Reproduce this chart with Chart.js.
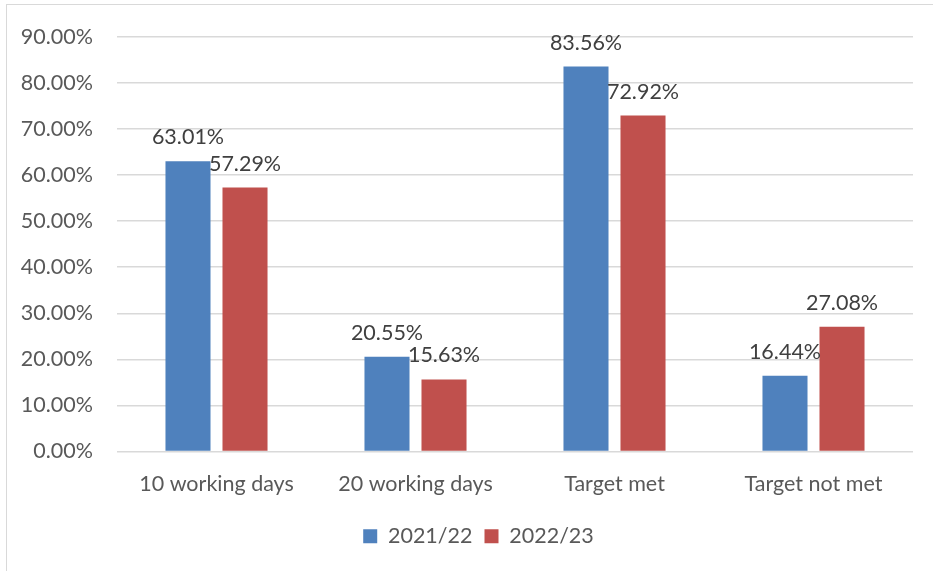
<!DOCTYPE html>
<html>
<head>
<meta charset="utf-8">
<script src="https://cdn.jsdelivr.net/npm/chart.js@4"></script>
<style>
  html, body { margin: 0; padding: 0; background: #fff; }
  #wrap { width: 933px; height: 571px; position: relative; }
</style>
</head>
<body>
<div id="wrap"><canvas id="targetChart" width="933" height="571"></canvas></div>
<script>
// chart data
const categories = ['10 working days', '20 working days', 'Target met', 'Target not met'];
const series2122 = [63.01, 20.55, 83.56, 16.44];
const series2223 = [57.29, 15.63, 72.92, 27.08];
const seriesNames = ['2021/22', '2022/23'];
const yTicks = [0, 10, 20, 30, 40, 50, 60, 70, 80, 90];

const FONT = 'Lato, "Open Sans", sans-serif';
const SIZE = 21.5;

// light frame round the chart, like the office chart border
const framePlugin = {
    id: 'frame',
    beforeDraw(chart) {
        const ctx = chart.ctx;
        ctx.save();
        ctx.strokeStyle = '#d9d9d9';
        ctx.lineWidth = 1;
        ctx.strokeRect(6.5, 4.5, 1000, 1000);
        ctx.restore();
    },
    // nudge the legend a bit right, it sits centred on the whole frame
    afterLayout(chart) {
        chart.legend.left += 17;
        chart.legend.right += 17;
    }
};

// value labels above each bar
const valueLabels = {
    id: 'valueLabels',
    afterDatasetsDraw(chart) {
        const ctx = chart.ctx;
        ctx.save();
        ctx.font = SIZE + 'px ' + FONT;
        ctx.fillStyle = '#404040';
        ctx.textAlign = 'center';
        ctx.textBaseline = 'alphabetic';
        chart.data.datasets.forEach((ds, i) => {
            chart.getDatasetMeta(i).data.forEach((bar, j) => {
                ctx.fillText(ds.data[j].toFixed(2) + '%', bar.x, bar.y - 17);
            });
        });
        ctx.restore();
    }
};

const ctx = document.getElementById('targetChart').getContext('2d');

new Chart(ctx, {
    type: 'bar',
    data: {
        labels: categories,
        datasets: [
            { label: seriesNames[0], data: series2122, backgroundColor: '#4F81BD' },
            { label: seriesNames[1], data: series2223, backgroundColor: '#C0504D' }
        ]
    },
    options: {
        responsive: false,
        animation: false,
        categoryPercentage: 0.573,
        barPercentage: 0.79,
        layout: { padding: { left: 10, right: 20, top: 33, bottom: 14 } },
        plugins: {
            legend: {
                position: 'bottom',
                labels: {
                    boxWidth: 14,
                    boxHeight: 14,
                    padding: 12,
                    color: '#595959',
                    font: { family: FONT, size: SIZE }
                }
            },
            tooltip: { enabled: false }
        },
        scales: {
            x: {
                grid: { display: false, drawTicks: false },
                border: { display: false },
                ticks: { color: '#595959', font: { family: FONT, size: SIZE }, padding: 20 },
                afterFit(scale) { scale.height = 62; }
            },
            y: {
                min: 0,
                max: 90,
                afterBuildTicks(scale) { scale.ticks = yTicks.map(v => ({ value: v })); },
                grid: { color: '#d9d9d9', lineWidth: 1.5, drawTicks: false },
                border: { display: false },
                ticks: {
                    color: '#595959',
                    font: { family: FONT, size: SIZE },
                    padding: 24,
                    callback: v => v.toFixed(2) + '%'
                },
                afterFit(scale) { scale.width = 107; }
            }
        }
    },
    plugins: [framePlugin, valueLabels]
});
</script>
</body>
</html>
